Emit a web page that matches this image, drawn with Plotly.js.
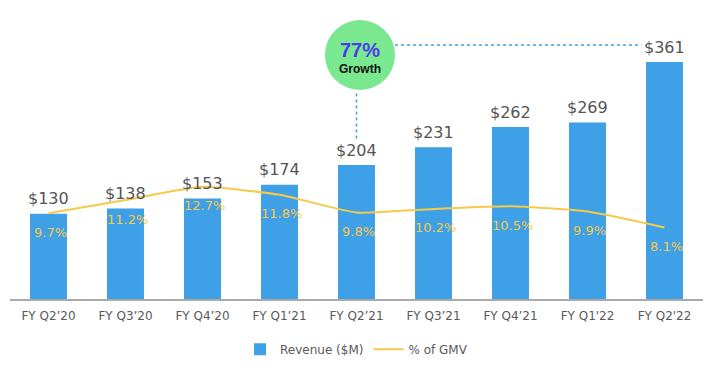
<!DOCTYPE html>
<html>
<head>
<meta charset="utf-8">
<script src="https://cdn.plot.ly/plotly-3.0.1.min.js"></script>
<style>html,body{margin:0;padding:0;background:#fff;}#chart{width:712px;height:379px;}</style>
</head>
<body>
<div id="chart"></div>
<script>
const categories = ["FY Q2\u201920","FY Q3\u201920","FY Q4\u201920","FY Q1\u201921","FY Q2\u201921","FY Q3\u201921","FY Q4\u201921","FY Q1'22","FY Q2'22"];
const revenue = [130, 138, 153, 174, 204, 231, 262, 269, 361];
const pctGMV = [9.7, 11.2, 12.7, 11.8, 9.8, 10.2, 10.5, 9.9, 8.1];
const growthText = "77%";

const barColor = "#3EA0E6";
const lineColor = "#F7C948";

const traces = [
  {
    type: "bar", name: "Revenue ($M)", x: categories, y: revenue,
    marker: {color: barColor}, width: 0.48, hoverinfo: "none"
  },
  {
    type: "scatter", mode: "lines", name: "% of GMV", x: categories, y: pctGMV,
    yaxis: "y2", line: {color: lineColor, width: 2, shape: "spline", smoothing: 0.5},
    hoverinfo: "none"
  }
];

const pctLabels = pctGMV.map((v, i) => ({
  x: categories[i], y: v, xref: "x", yref: "y2", text: v.toFixed(1) + "%",
  showarrow: false, yshift: -19, xshift: 2,
  font: {family: "DejaVu Sans", size: 13, color: lineColor}
}));
const revLabels = revenue.map((v, i) => ({
  x: categories[i], y: v, xref: "x", yref: "y", text: "$" + v,
  showarrow: false, yshift: 15, yanchor: "middle",
  font: {family: "DejaVu Sans", size: 16, color: "#555555"}
}));

const layout = {
  width: 712, height: 379,
  margin: {l: 10, r: 9, t: 20, b: 80},
  paper_bgcolor: "#fff", plot_bgcolor: "#fff",
  font: {family: "DejaVu Sans", color: "#595959"},
  showlegend: true,
  legend: {orientation: "h", x: 0.5, xanchor: "center", y: -0.18, yanchor: "middle",
    itemwidth: 30, font: {family: "DejaVu Sans", size: 12, color: "#595959"}},
  xaxis: {type: "category", showgrid: false, zeroline: false, showline: true,
    linecolor: "#AAAAAA", linewidth: 1.5, ticks: "outside", ticklen: 5, tickcolor: "rgba(0,0,0,0)",
    tickfont: {family: "DejaVu Sans", size: 12, color: "#595959"}, fixedrange: true},
  yaxis: {range: [0, 425], showgrid: false, zeroline: false, showticklabels: false, showline: false},
  yaxis2: {range: [0, 31.6], overlaying: "y", side: "right", showgrid: false, zeroline: false,
    showticklabels: false, showline: false},
  shapes: [
    {type: "line", xref: "x", yref: "y", x0: 4.5, x1: 7.7, y0: 387, y1: 387,
      line: {color: barColor, width: 1.5, dash: "dot"}},
    {type: "line", xref: "x", yref: "y", x0: 4, x1: 4, y0: 313, y1: 240,
      line: {color: barColor, width: 1.5, dash: "dot"}},
    {type: "circle", xref: "paper", yref: "paper", x0: 0.4545, x1: 0.5556, y0: 0.749, y1: 1.0,
      fillcolor: "#7AE88F", line: {width: 0}, layer: "above"}
  ],
  annotations: pctLabels.concat(revLabels).concat([
    {xref: "paper", yref: "paper", x: 0.5051, y: (299 - 58) / 279, xanchor: "center", yanchor: "middle",
      text: "<b><span style='font-size:20px;color:#4B3CE8'>" + growthText + "</span></b><br><b>Growth</b>",
      showarrow: false, font: {family: "Liberation Sans", size: 12, color: "#111111"}}
  ])
};

Plotly.newPlot("chart", traces, layout, {displayModeBar: false, staticPlot: true});
</script>
</body>
</html>
